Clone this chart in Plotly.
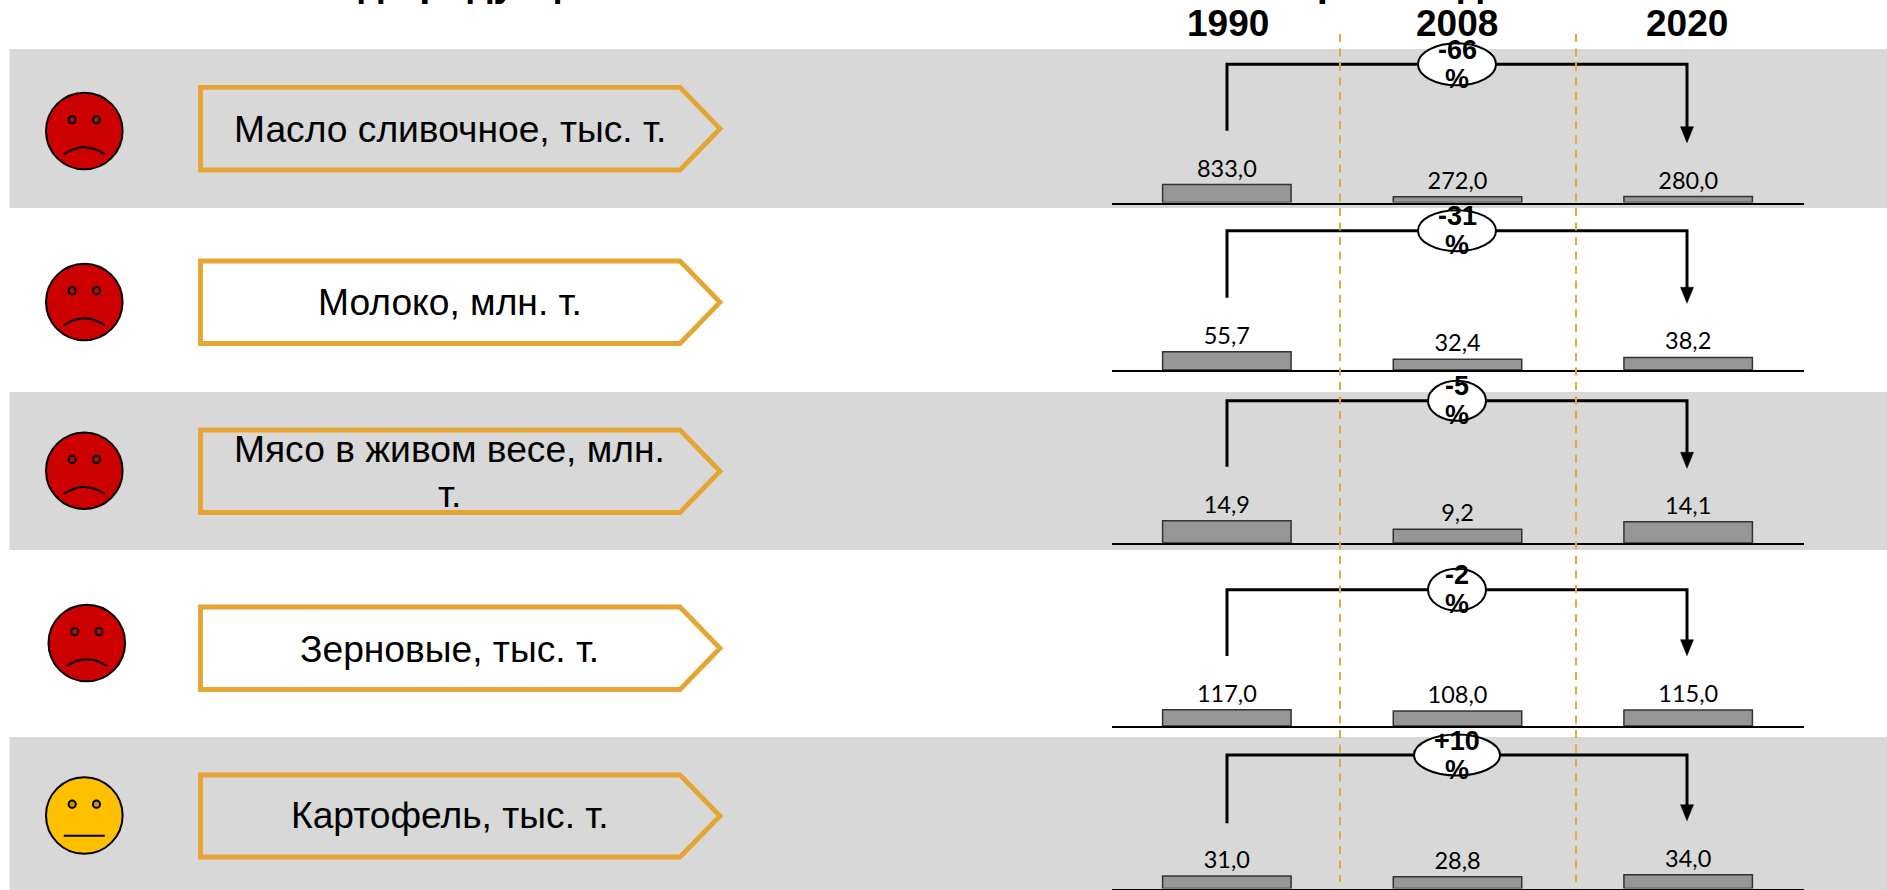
import plotly.graph_objects as go

W, H = 1887, 890

years = ["1990", "2008", "2020"]
products = ["Масло сливочное, тыс. т.", "Молоко, млн. т.", "Мясо в живом весе, млн.<br>т.", "Зерновые, тыс. т.", "Картофель, тыс. т."]
butter = [833.0, 272.0, 280.0]
milk = [55.7, 32.4, 38.2]
meat = [14.9, 9.2, 14.1]
grain = [117.0, 108.0, 115.0]
potato = [31.0, 28.8, 34.0]
series = [butter, milk, meat, grain, potato]
changes = ["-66", "-31", "-5", "-2", "+10"]
moods = ["sad", "sad", "sad", "sad", "flat"]
header_left = "Вид продукции"
header_right = "Производство"

# layout geometry, in page pixels
BASE = [202.6, 370.0, 543.0, 726.0, 888.6]
PX_PER_UNIT = [0.0216, 0.3285, 1.5, 0.139, 0.41]
BANDS = [(49, 208), (392, 550), (737, 890)]
FACE_C = [(84.3, 131), (84.3, 302), (84.3, 470.7), (86.8, 643), (84.3, 815.5)]
PENT = [(87.3, 170), (261, 343.5), (430, 512.5), (607, 689.5), (775, 857)]
LABEL_BASE = [141.7, 315, None, 661.7, 828]
CONN = [(64.3, 130.7, 142.7), (230.7, 297.7, 303.3), (400.7, 466.7, 468.3), (589.7, 656, 655.7), (755, 823.3, 820.7)]
OVAL = [(39, 21), (39, 20.5), (29, 20), (29, 21), (43, 20.5)]
ORANGE = "#E5A532"
FONT = "Liberation Sans"


def px(x):
    return x / W


def py(y):
    return 1 - y / H


shapes, ann = [], []


def path(d, **kw):
    shapes.append(dict(type="path", xref="paper", yref="paper", path=d, layer="above", **kw))


def P(x, y):
    return f"{px(x):.5f},{py(y):.5f}"


def oval(cx, cy, rx, ry, fill, lw=2, color="black"):
    shapes.append(dict(type="circle", xref="paper", yref="paper", layer="above",
                       x0=px(cx - rx), x1=px(cx + rx), y0=py(cy + ry), y1=py(cy - ry),
                       fillcolor=fill, line=dict(color=color, width=lw)))


def text(x, base, s, size, bold=False, family=FONT, anchor="center"):
    # base is the wanted text baseline; plotly centres the box around y
    t = f"<b>{s}</b>" if bold else s
    ann.append(dict(xref="paper", yref="paper", x=px(x), y=py(base - 0.345 * size), text=t,
                    showarrow=False, xanchor=anchor, yanchor="middle",
                    font=dict(family=family, size=size, color="black")))


for top, bot in BANDS:
    shapes.append(dict(type="rect", xref="paper", yref="paper", layer="below",
                       x0=px(9.5), x1=1, y0=py(bot), y1=py(top),
                       fillcolor="#D8D8D8", line=dict(width=0)))

text(303, -4, header_left, 40, True, anchor="left")
text(1286, -4, header_right, 40, True, anchor="left")
for name, cx in zip(years, [1227.5, 1456.7, 1687]):
    text(cx, 36.5, name, 37, True)

# faces
for (cx, cy), mood in zip(FACE_C, moods):
    fill, eye = ("#CC0000", "#A81010") if mood == "sad" else ("#FFC000", "#CC9A00")
    oval(cx, cy, 38.3, 38.3, fill)
    for dx in (-12.1, 12.2):
        oval(cx + dx, cy - 11.3, 3.6, 3.6, eye)
    if mood == "sad":
        path(f"M {P(cx - 20.5, cy + 23.3)} Q {P(cx, cy + 9.3)} {P(cx + 20.5, cy + 23.3)}",
             line=dict(color="black", width=2))
    else:
        path(f"M {P(cx - 20.5, cy + 20.3)} L {P(cx + 20.5, cy + 20.3)}", line=dict(color="black", width=2))

# arrow-shaped product labels
for i, (top, bot) in enumerate(PENT):
    mid = (top + bot) / 2
    path(f"M {P(200.5, top)} L {P(680, top)} L {P(720, mid)} L {P(680, bot)} L {P(200.5, bot)} Z",
         line=dict(color=ORANGE, width=4.8))
    if LABEL_BASE[i] is None:
        a, b = products[i].split("<br>")
        text(449.5, 461.7, a, 37.2)
        text(449.5, 506.7, b, 37.2)
    else:
        text(449.5, LABEL_BASE[i], products[i], 37.2)

# connectors with change ovals
for i, (y0, yl, tip) in enumerate(CONN):
    path(f"M {P(1227, yl)} L {P(1227, y0)} L {P(1687, y0)} L {P(1687, tip - 10)}",
         line=dict(color="black", width=3))
    path(f"M {P(1680.5, tip - 16)} L {P(1693.5, tip - 16)} L {P(1687, tip)} Z", fillcolor="black",
         line=dict(color="black", width=0.5))

# dashed column separators
for x in (1340, 1576):
    shapes.append(dict(type="line", xref="paper", yref="paper", layer="above",
                       x0=px(x), x1=px(x), y0=py(34), y1=py(882),
                       line=dict(color="#E8A838", width=2, dash="8px,6.5px")))

for i, (y0, yl, tip) in enumerate(CONN):
    rx, ry = OVAL[i]
    oval(1457, y0, rx, ry, "white")
    text(1457, y0 - 5, changes[i], 27, True)
    text(1457, y0 + 24, "%", 27, True)

fig = go.Figure()
layout = {}
for i, vals in enumerate(series):
    n = "" if i == 0 else str(i + 1)
    height = 60
    fig.add_trace(go.Bar(
        x=years, y=vals, xaxis=f"x{n}", yaxis=f"y{n}", width=0.557,
        marker=dict(color="#969696", line=dict(color="#333333", width=1.5)),
        text=[f"{v:.1f}".replace(".", ",") for v in vals], textposition="outside",
        textfont=dict(family="Lato", size=23.5, color="black"),
        cliponaxis=False, constraintext="none", showlegend=False, hoverinfo="skip"))
    layout[f"xaxis{n}"] = dict(domain=[px(1111.5), px(1803.5)], anchor=f"y{n}", type="category",
                               categoryorder="array", categoryarray=years, range=[-0.5, 2.5],
                               showticklabels=False, ticks="", showgrid=False, zeroline=False,
                               showline=True, linecolor="black", linewidth=1.5, fixedrange=True)
    layout[f"yaxis{n}"] = dict(domain=[py(BASE[i]), py(BASE[i] - height)], anchor=f"x{n}",
                               range=[0, height / PX_PER_UNIT[i]], visible=False, fixedrange=True)

fig.update_layout(width=W, height=H, margin=dict(l=0, r=0, t=0, b=0), autosize=False,
                  paper_bgcolor="white", plot_bgcolor="rgba(0,0,0,0)", showlegend=False,
                  shapes=shapes, annotations=ann, **layout)
fig.write_html("out.html", config=dict(displayModeBar=False),
               post_script="document.body.style.margin='0';document.body.style.overflow='hidden';")
